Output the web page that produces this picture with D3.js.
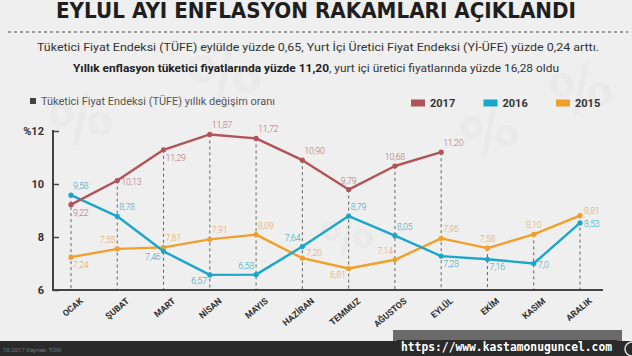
<!DOCTYPE html>
<html><head><meta charset="utf-8">
<script src="https://cdn.jsdelivr.net/npm/d3@7/dist/d3.min.js"></script>
<style>
html,body{margin:0;padding:0;background:#efefef;}
svg{display:block;font-family:Roboto,"Open Sans",sans-serif;}
</style></head>
<body>
<svg id="c" width="632" height="356"></svg>
<script>
const months = ["OCAK","ŞUBAT","MART","NİSAN","MAYIS","HAZİRAN","TEMMUZ","AĞUSTOS","EYLÜL","EKİM","KASIM","ARALIK"];
const years = ["2017","2016","2015"];
const values2017 = [9.22,10.13,11.29,11.87,11.72,10.90,9.79,10.68,11.20];
const values2016 = [9.58,8.78,7.46,6.57,6.58,7.64,8.79,8.05,7.28,7.16,7.0,8.53];
const values2015 = [7.24,7.55,7.61,7.91,8.09,7.20,6.81,7.14,7.95,7.58,8.10,8.81];
const place2017 = ["br","r","br","ar","ar","ar","a","a","ar"];
const place2016 = ["ar","ar","bl","bl","al","al","ar","ar","br","br","r","r"];
const place2015 = ["br","al","ar","ar","ar","ur","bl","al","ar","a","a","ur"];
const yTicks = [6,8,10,12];
const colors = {"2017":"#b1535b","2016":"#1ba6cc","2015":"#f0a02a"};
const labelColors = {"2017":"#b07078","2016":"#2fa5bf","2015":"#e6a655"};

const series = [
  {year:"2017", values:values2017, place:place2017},
  {year:"2016", values:values2016, place:place2016},
  {year:"2015", values:values2015, place:place2015}
];

const svg = d3.select("#c");

// faint watermark glyphs
[[60,150,60],[200,110,70],[560,120,60],[330,260,50],[470,160,55]].forEach(([x,y,s])=>{
  svg.append("text").attr("x",x).attr("y",y).attr("font-size",s).attr("font-weight",700)
    .attr("fill","#eaeaea").attr("font-family","DejaVu Sans").attr("transform",`rotate(-20,${x},${y})`).text("%");
});

// Title
svg.append("text").attr("x",316).attr("y",18).attr("text-anchor","middle")
  .attr("font-family","DejaVu Sans").attr("font-weight",900).attr("font-size",21)
  .attr("fill","#1e1e1e").attr("textLength",520).attr("lengthAdjust","spacingAndGlyphs")
  .text("EYLUL AYI ENFLASYON RAKAMLARI AÇIKLANDI");
svg.append("line").attr("x1",8).attr("x2",628).attr("y1",32).attr("y2",32)
  .attr("stroke","#444").attr("stroke-width",1.2).attr("stroke-dasharray","3,3");

svg.append("text").attr("x",318).attr("y",51).attr("text-anchor","middle").attr("font-size",11)
  .attr("fill","#333").attr("textLength",562).attr("lengthAdjust","spacingAndGlyphs")
  .text("Tüketici Fiyat Endeksi (TÜFE) eylülde yüzde 0,65, Yurt İçi Üretici Fiyat Endeksi (Yİ-ÜFE) yüzde 0,24 arttı.");
const s2 = svg.append("text").attr("x",316).attr("y",72).attr("text-anchor","middle").attr("font-size",11)
  .attr("fill","#333").attr("textLength",486).attr("lengthAdjust","spacingAndGlyphs");
s2.append("tspan").attr("font-weight",700).attr("fill","#222").text("Yıllık enflasyon tüketici fiyatlarında yüzde 11,20");
s2.append("tspan").text(", yurt içi üretici fiyatlarında yüzde 16,28 oldu");

// Left legend
svg.append("rect").attr("x",30).attr("y",98).attr("width",6).attr("height",6).attr("fill","#444");
svg.append("text").attr("x",41).attr("y",105).attr("font-size",10).attr("fill","#555")
  .attr("textLength",234).attr("lengthAdjust","spacingAndGlyphs")
  .text("Tüketici Fiyat Endeksi (TÜFE) yıllık değişim oranı");

// Right legend
const lg = svg.append("g");
years.forEach((yr,i)=>{
  const gx = 411 + i*72.5;
  lg.append("rect").attr("x",gx).attr("y",99.5).attr("width",14).attr("height",7).attr("fill",colors[yr]);
  lg.append("text").attr("x",gx+19).attr("y",107).attr("font-size",11).attr("font-weight",700)
    .attr("fill","#333").text(yr);
});

// Scales
const x = d3.scalePoint().domain(months).range([71,580]);
const y = d3.scaleLinear().domain([6,12]).range([290,131]);

// dashed guides
months.forEach((m,i)=>{
  const vals = series.map(s=>s.values[i]).filter(v=>v!==undefined);
  const top = d3.max(vals);
  svg.append("line").attr("x1",x(m)).attr("x2",x(m)).attr("y1",y(top)).attr("y2",y(6))
    .attr("stroke","#555").attr("stroke-width",0.9).attr("stroke-dasharray","3,3");
});

// Y axis
const yAxis = d3.axisLeft(y).tickValues(yTicks).tickSize(-6).tickPadding(9)
  .tickFormat(d => d===12 ? "%12" : d);
const yg = svg.append("g").attr("transform","translate(53,0)").call(yAxis);
yg.select(".domain").remove();
yg.selectAll(".tick line").attr("stroke","#444").attr("stroke-width",1.5);
yg.selectAll(".tick text").attr("font-size",11).attr("font-weight",700).attr("fill","#333")
  .attr("font-family","Roboto,sans-serif");
svg.append("line").attr("x1",53).attr("x2",53).attr("y1",y(12)-1).attr("y2",y(6)+1)
  .attr("stroke","#444").attr("stroke-width",2);

// X axis
const xAxis = d3.axisBottom(x).tickSize(0).tickPadding(0);
const xg = svg.append("g").attr("transform",`translate(0,${y(6)})`).call(xAxis);
xg.select(".domain").remove();
xg.selectAll(".tick text").attr("font-size",8.8).attr("font-weight",700).attr("fill","#333")
  .attr("font-family","Roboto,sans-serif")
  .attr("text-anchor","end").attr("dy",0)
  .attr("transform","translate(12,12) rotate(-40)");
svg.append("line").attr("x1",52).attr("x2",603).attr("y1",y(6)).attr("y2",y(6))
  .attr("stroke","#444").attr("stroke-width",2);

// Lines
const line = d3.line().x((d,i)=>x(months[i])).y(d=>y(d));
const order = ["2015","2016","2017"];
order.forEach(yr=>{
  const s = series.find(d=>d.year===yr);
  svg.append("path").datum(s.values).attr("d",line).attr("fill","none")
    .attr("stroke",colors[yr]).attr("stroke-width",2.4).attr("stroke-linejoin","round");
  svg.selectAll(null).data(s.values).enter().append("circle")
    .attr("cx",(d,i)=>x(months[i])).attr("cy",d=>y(d)).attr("r",2.6).attr("fill",colors[yr]);
});

// Labels
const fmt = v => (Number.isInteger(v) ? v.toFixed(1) : v.toFixed(2)).replace(".",",");
const P = {
  a:{dx:0,dy:-6,anchor:"middle"},
  ar:{dx:2,dy:-6,anchor:"start"},
  al:{dx:-2,dy:-6,anchor:"end"},
  ur:{dx:4,dy:-2,anchor:"start"},
  r:{dx:4,dy:4,anchor:"start"},
  br:{dx:2,dy:11,anchor:"start"},
  bl:{dx:-3,dy:9,anchor:"end"}
};
series.forEach(s=>{
  svg.selectAll(null).data(s.values).enter().append("text")
    .attr("x",(d,i)=>x(months[i])+P[s.place[i]].dx)
    .attr("y",(d,i)=>y(d)+P[s.place[i]].dy)
    .attr("text-anchor",(d,i)=>P[s.place[i]].anchor)
    .attr("font-size",8.8).attr("font-weight",300).attr("fill",labelColors[s.year])
    .attr("letter-spacing",-0.2)
    .text(d=>fmt(d));
});

// Bottom band & watermark
svg.append("rect").attr("x",393).attr("y",330).attr("width",229).attr("height",26).attr("fill","#6a6a6a");
svg.append("rect").attr("x",0).attr("y",341).attr("width",632).attr("height",15).attr("fill","#2a2a2a");
svg.append("text").attr("x",3).attr("y",352).attr("font-size",6).attr("fill","#777").text("10.2017      Kaynak: TÜİK");
svg.append("rect").attr("x",397).attr("y",340).attr("width",220).attr("height",16).attr("fill","#2a2a2a");
svg.append("text").attr("x",401).attr("y",351).attr("font-family","DejaVu Sans Mono").attr("font-weight",700)
  .attr("font-size",12).attr("fill","#fff").attr("textLength",211).attr("lengthAdjust","spacingAndGlyphs")
  .text("https://www.kastamonuguncel.com");
svg.append("circle").attr("cx",632).attr("cy",349).attr("r",7).attr("fill","none").attr("stroke","#ddd").attr("stroke-width",1.5);
</script>
</body></html>
